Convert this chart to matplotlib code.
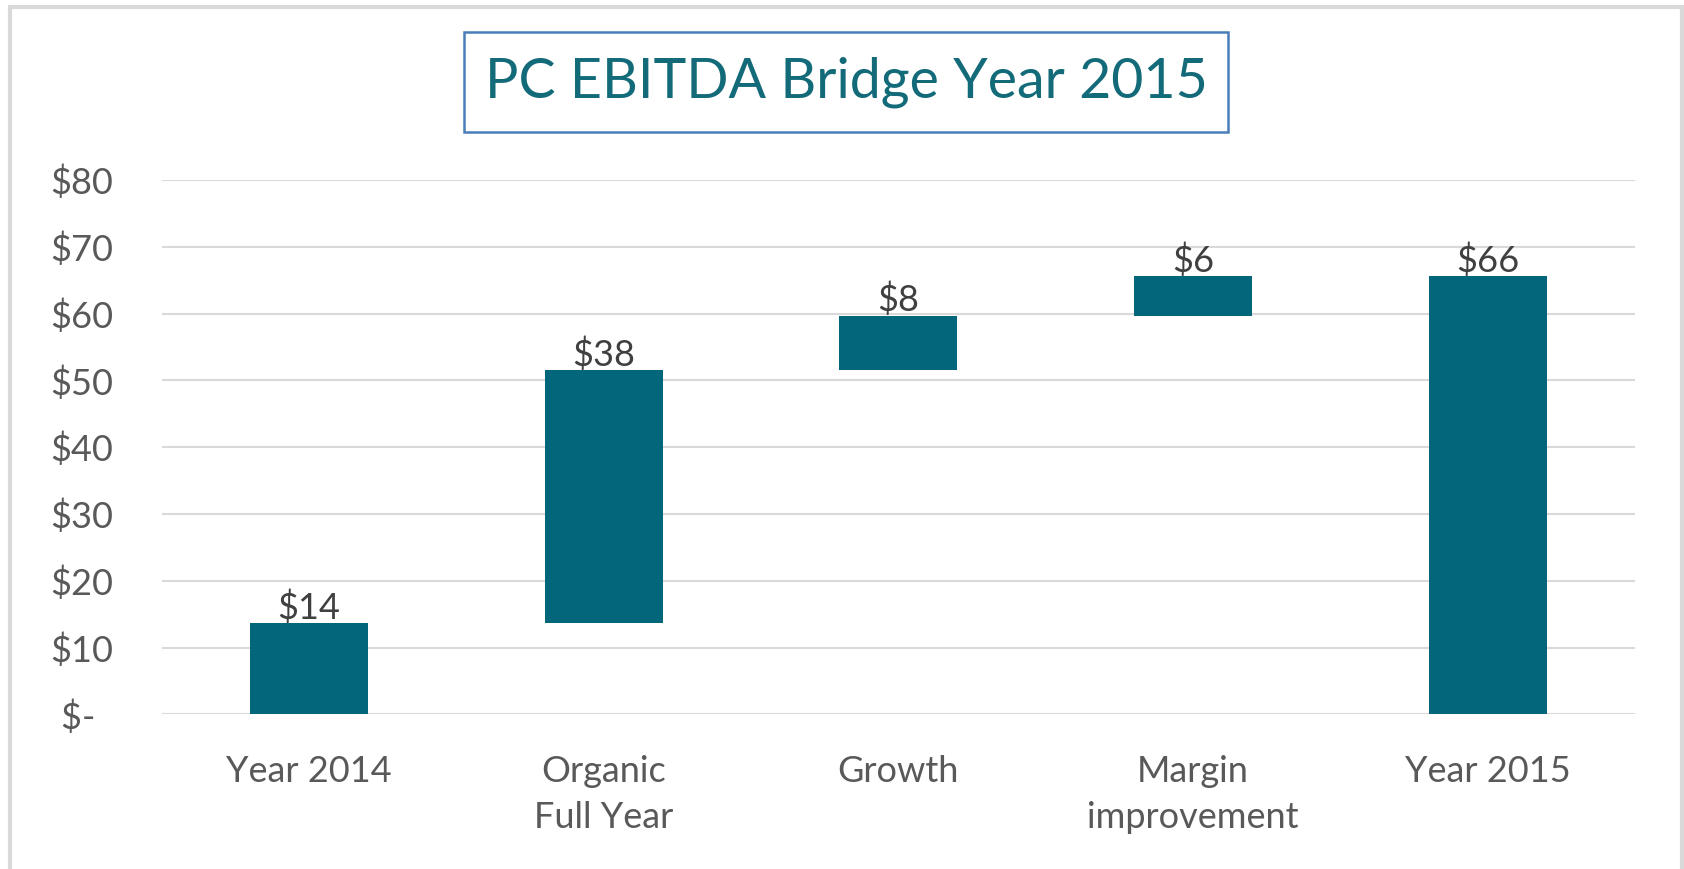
import matplotlib
matplotlib.use('Agg')
import matplotlib.pyplot as plt
from matplotlib.patches import Rectangle

plt.rcParams['font.family'] = ['Lato', 'DejaVu Sans']

categories = ['Year 2014', 'Organic\nFull Year', 'Growth', 'Margin\nimprovement', 'Year 2015']
start_value = 13.6
changes = [38.0, 8.1, 5.9]
yticks = [0, 10, 20, 30, 40, 50, 60, 70, 80]
ytick_labels = ['$-\u2002', '$10', '$20', '$30', '$40', '$50', '$60', '$70', '$80']

# waterfall: floating bars for the changes, full bars for the totals
end_value = start_value + sum(changes)
bottoms = [0]
heights = [start_value]
running = start_value
for c in changes:
    bottoms.append(running)
    heights.append(c)
    running += c
bottoms.append(0)
heights.append(end_value)
labels = ['$%d' % round(h) for h in heights]

bar_color = '#03667A'
text_gray = '#595959'

W, H = 1684, 869
fig = plt.figure(figsize=(W / 100, H / 100), dpi=100)
ax = fig.add_axes([161.7 / W, 1 - 714.3 / H, (1635 - 161.7) / W, (714.3 - 180) / H])

x = range(len(categories))
ax.bar(x, heights, bottom=bottoms, width=0.40, color=bar_color, zorder=3)
for xi, b, h, lab in zip(x, bottoms, heights, labels):
    ax.annotate(lab, (xi, b + h), xytext=(0, 3), textcoords='offset points',
                ha='center', va='baseline', fontsize=26, color='#404040', zorder=4)

ax.set_xlim(-0.5, len(categories) - 0.5)
ax.set_ylim(0, 80)
ax.set_yticks(yticks)
ax.set_yticklabels(ytick_labels)
ax.set_xticks(list(x))
ax.set_xticklabels(categories, linespacing=1.5)
ax.tick_params(axis='y', length=0, pad=35, labelsize=26, labelcolor=text_gray)
ax.tick_params(axis='x', length=0, pad=29, labelsize=26, labelcolor=text_gray)
ax.yaxis.grid(True, color='#d9d9d9', linewidth=1.5, zorder=0)
ax.set_axisbelow(True)
for s in ax.spines.values():
    s.set_visible(False)

# outer chart frame
fig.patches.append(Rectangle((9.5 / W, -0.05), (1682 - 9.5) / W, 1.05 - 7 / H,
                             transform=fig.transFigure, fill=False,
                             edgecolor='#d9d9d9', linewidth=3))

# title box
fig.patches.append(Rectangle((464 / W, 1 - 132 / H), (1228 - 464) / W, 100 / H,
                             transform=fig.transFigure, fill=False,
                             edgecolor='#4a7ebb', linewidth=1.8))
fig.text(846 / W, 1 - 82 / H, 'PC EBITDA Bridge Year 2015', ha='center', va='center',
         fontsize=40, color='#136a78')

fig.savefig('out.png', dpi=100, facecolor='white')
